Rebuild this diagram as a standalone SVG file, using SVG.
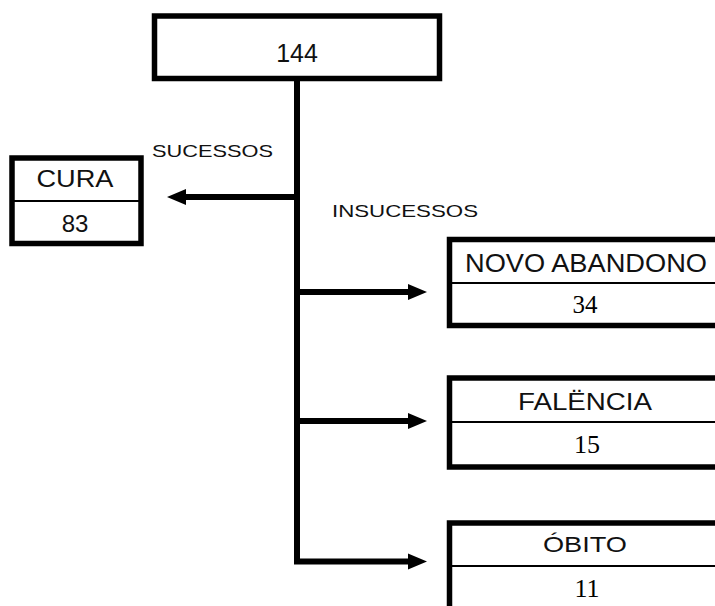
<svg xmlns="http://www.w3.org/2000/svg" width="715" height="606" viewBox="0 0 715 606">
<defs>
<style>
.box{fill:#fff;stroke:#000;stroke-width:5.5}
.div{stroke:#000;stroke-width:2}
.t{font-family:"Liberation Sans",Arial,sans-serif;fill:#111;text-anchor:middle}
.n{font-family:"Liberation Serif","Times New Roman",serif;fill:#000;text-anchor:middle}
.lbl{font-family:"Liberation Sans",Arial,sans-serif;fill:#111;font-size:17px}
.ln{stroke:#000;stroke-width:6;fill:none}
.ah{fill:#000}
</style>
</defs>
<rect width="715" height="606" fill="#fff"/>
<g id="connectors">
<path class="ln" d="M297 78 V561.5 H410"/>
<path class="ln" d="M297 197 H185"/>
<path class="ln" d="M297 292 H410"/>
<path class="ln" d="M297 421 H410"/>
<polygon class="ah" points="167,197 186,189 186,205"/>
<polygon class="ah" points="427,292 408,284 408,300"/>
<polygon class="ah" points="427,421 408,413 408,429"/>
<polygon class="ah" points="427,561.5 408,553.5 408,569.5"/>
<text class="lbl" x="152" y="157" textLength="121" lengthAdjust="spacingAndGlyphs">SUCESSOS</text>
<text class="lbl" x="332" y="217" textLength="146" lengthAdjust="spacingAndGlyphs">INSUCESSOS</text>
</g>
<g id="total">
<rect class="box" x="154.5" y="16" width="285" height="62.5"/>
<text class="t" x="297" y="62" font-size="25">144</text>
</g>
<g id="cura">
<rect class="box" x="12" y="158" width="129" height="85.5"/>
<line class="div" x1="12" y1="201" x2="141" y2="201"/>
<text class="t" x="75" y="187" font-size="24" textLength="77" lengthAdjust="spacingAndGlyphs">CURA</text>
<text class="t" x="75" y="232" font-size="24">83</text>
</g>
<g id="abandono">
<rect class="box" x="449.5" y="239.5" width="280" height="86"/>
<line class="div" x1="449.5" y1="283" x2="730" y2="283"/>
<text class="t" x="586" y="272" font-size="25" textLength="242" lengthAdjust="spacingAndGlyphs">NOVO ABANDONO</text>
<text class="n" x="585" y="313" font-size="25">34</text>
</g>
<g id="falencia">
<rect class="box" x="449.5" y="378" width="280" height="89"/>
<line class="div" x1="449.5" y1="422" x2="730" y2="422"/>
<text class="t" x="585" y="410" font-size="24" textLength="134" lengthAdjust="spacingAndGlyphs">FALËNCIA</text>
<text class="n" x="587" y="453" font-size="26">15</text>
</g>
<g id="obito">
<rect class="box" x="449.5" y="523" width="280" height="86"/>
<line class="div" x1="449.5" y1="566" x2="730" y2="566"/>
<text class="t" x="585" y="552" font-size="22" textLength="84" lengthAdjust="spacingAndGlyphs">ÓBITO</text>
<text class="n" x="587" y="597" font-size="26">11</text>
</g>
</svg>
